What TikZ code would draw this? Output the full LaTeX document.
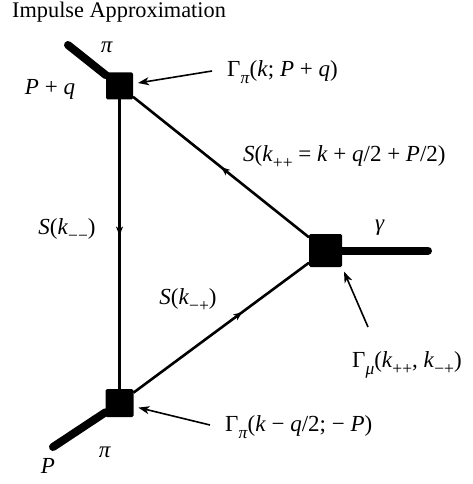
\documentclass[tikz,border=0pt]{standalone}
\usepackage{fontspec}
\setmainfont{Liberation Serif}
\usetikzlibrary{arrows.meta,decorations.markings,calc}
\newcommand{\iv}[1]{\textit{#1}}
\newcommand{\sbs}[1]{\raisebox{-0.3em}{\fontsize{17.5}{17.5}\selectfont #1}}

\begin{document}
\begin{tikzpicture}[x=1pt,y=-1pt,
  vtx/.style={fill=black,rounded corners=1.5pt,minimum size=#1,inner sep=0pt,outer sep=0pt},
  prop/.style={line width=2.6pt},
  leg/.style={line width=8pt,line cap=round},
  ptr/.style={line width=1.6pt,-{Stealth[length=11pt,width=8pt,inset=3pt]},shorten >=5pt},
  midarrow/.style={postaction={decorate},decoration={markings,mark=at position #1 with {\arrow{Stealth[length=9pt,width=7pt,inset=2.5pt]}}}},
  lbl/.style={font=\fontsize{23}{27}\selectfont,inner sep=0pt}
]
\useasboundingbox (0,0) rectangle (472,484);

% vertices
\node[vtx=27pt] (tp) at (119.5,86) {};
\node[vtx=28pt] (bp) at (119.5,403) {};
\node[vtx=33pt] (rp) at (325.5,250.5) {};

% external legs
\coordinate (ptop) at (68,45);
\coordinate (pbot) at (53,447);
\coordinate (gam) at (428,250.5);
\draw[leg] (tp) -- (ptop);
\draw[leg] (bp) -- (pbot);
\draw[leg] (rp.east) -- (gam);

% propagators
\draw[prop,midarrow=0.47] (tp) -- (bp);
\draw[prop,midarrow=0.5] (rp) -- (tp);
\draw[prop,midarrow=0.62] (bp) -- (rp);

% labels
\node[lbl,anchor=west,font=\fontsize{22.3}{26}\selectfont] (title) at (12,12) {Impulse Approximation};
\node[lbl] (pitop) at (107,47) {\iv{π}};
\node[lbl] (pq) at (50,89) {\iv{P} + \iv{q}};
\node[lbl,anchor=west] (gtop) at (227,72) {Γ\sbs{\iv{π}}(\iv{k}; \iv{P} + \iv{q})};
\node[lbl,anchor=west] (spp) at (243,157) {\iv{S}(\iv{k}\sbs{++} = \iv{k} + \iv{q}/2 + \iv{P}/2)};
\node[lbl] (gamma) at (380,228) {\iv{γ}};
\node[lbl] (smm) at (67,230) {\iv{S}(\iv{k}\sbs{−−})};
\node[lbl] (smp) at (188,300) {\iv{S}(\iv{k}\sbs{−+})};
\node[lbl,anchor=west] (gmu) at (352,365) {Γ\sbs{\iv{μ}}(\iv{k}\sbs{++}, \iv{k}\sbs{−+})};
\node[lbl,anchor=west] (gbot) at (225,427) {Γ\sbs{\iv{π}}(\iv{k} − \iv{q}/2; − \iv{P})};
\node[lbl] (pibot) at (105,452) {\iv{π}};
\node[lbl] (P) at (48,466) {\iv{P}};

% pointers
\coordinate (a1) at (212,71);
\coordinate (a2) at (210,425);
\coordinate (a3) at (368,327);
\draw[ptr] (a1) -- (tp);
\draw[ptr] (a2) -- (bp);
\draw[ptr] (a3) -- (rp.south east);
\end{tikzpicture}
\end{document}
